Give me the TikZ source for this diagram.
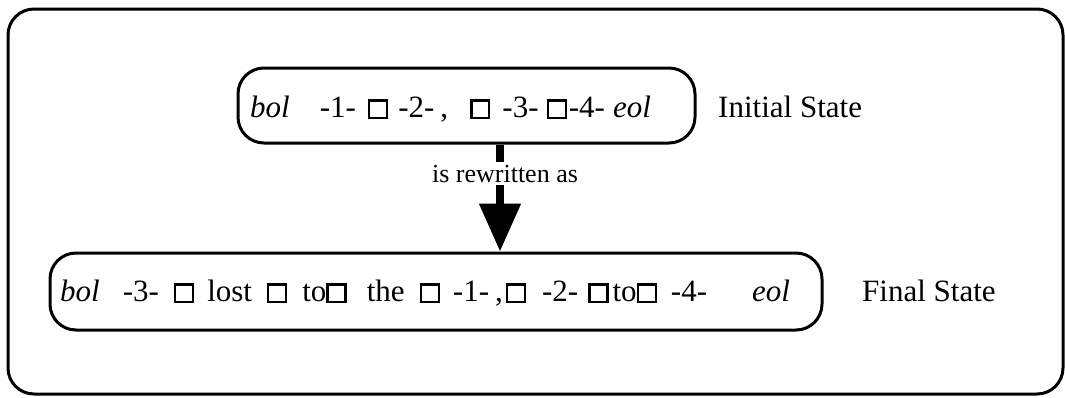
\documentclass[tikz,border=0pt]{standalone}
\usepackage{fontspec}
\setmainfont{Liberation Serif}
\usetikzlibrary{arrows.meta}
\newcommand\bx{{\setlength\fboxsep{0pt}\setlength\fboxrule{2.4pt}\fbox{\rule{0pt}{15.5pt}\hspace{15.5pt}}}}
\tikzset{
  frame/.style={line width=3pt, rounded corners=26pt},
  statebox/.style={draw, line width=3pt, rounded corners=26pt, inner sep=0pt},
  txt/.style={anchor=base west, inner sep=0pt, font=\fontsize{31}{36}\selectfont},
  lab/.style={anchor=base, fill=white, inner sep=3pt, font=\fontsize{26}{30}\selectfont},
  rewrite/.style={line width=8pt, -{Triangle[width=40pt,length=48pt]}}
}
\begin{document}
\begin{tikzpicture}[x=1pt,y=-1pt]
\useasboundingbox (0,0) rectangle (1065,397);
\draw[frame] (8,9) rectangle (1063,394);
\node[statebox, minimum width=457pt, minimum height=75pt] (init) at (466.5,105.5) {};
\node[txt] (inittext) at (250,117)
  {\textit{bol}\hspace{30pt}-1-\hspace{12pt}\bx\hspace{10pt}-2-\hspace{6pt},\hspace{22pt}\bx\hspace{12pt}-3-\hspace{8pt}\bx\hspace{2pt}-4-\hspace{8pt}\textit{eol}};
\node[txt] (initlab) at (718,117) {Initial State};
\node[statebox, minimum width=772pt, minimum height=77pt] (final) at (436,291.5) {};
\node[txt] (finaltext) at (60,301)
  {\textit{bol}\hspace{23pt}-3-\hspace{15pt}\bx\hspace{13pt}lost\hspace{15pt}\bx\hspace{15pt}to\bx\hspace{20pt}the\hspace{15pt}\bx\hspace{13pt}-1-\hspace{6pt},\hspace{3pt}\bx\hspace{16pt}-2-\hspace{10pt}\bx\hspace{4pt}to\bx\hspace{14pt}-4-\hspace{45pt}\textit{eol}};
\node[txt] (finallab) at (862,301) {Final State};
\coordinate (ax) at (500,0);
\draw[rewrite] (init.south -| ax) -- (final.north -| ax);
\node[lab] (rw) at (505,182) {is rewritten as};
\end{tikzpicture}
\end{document}
